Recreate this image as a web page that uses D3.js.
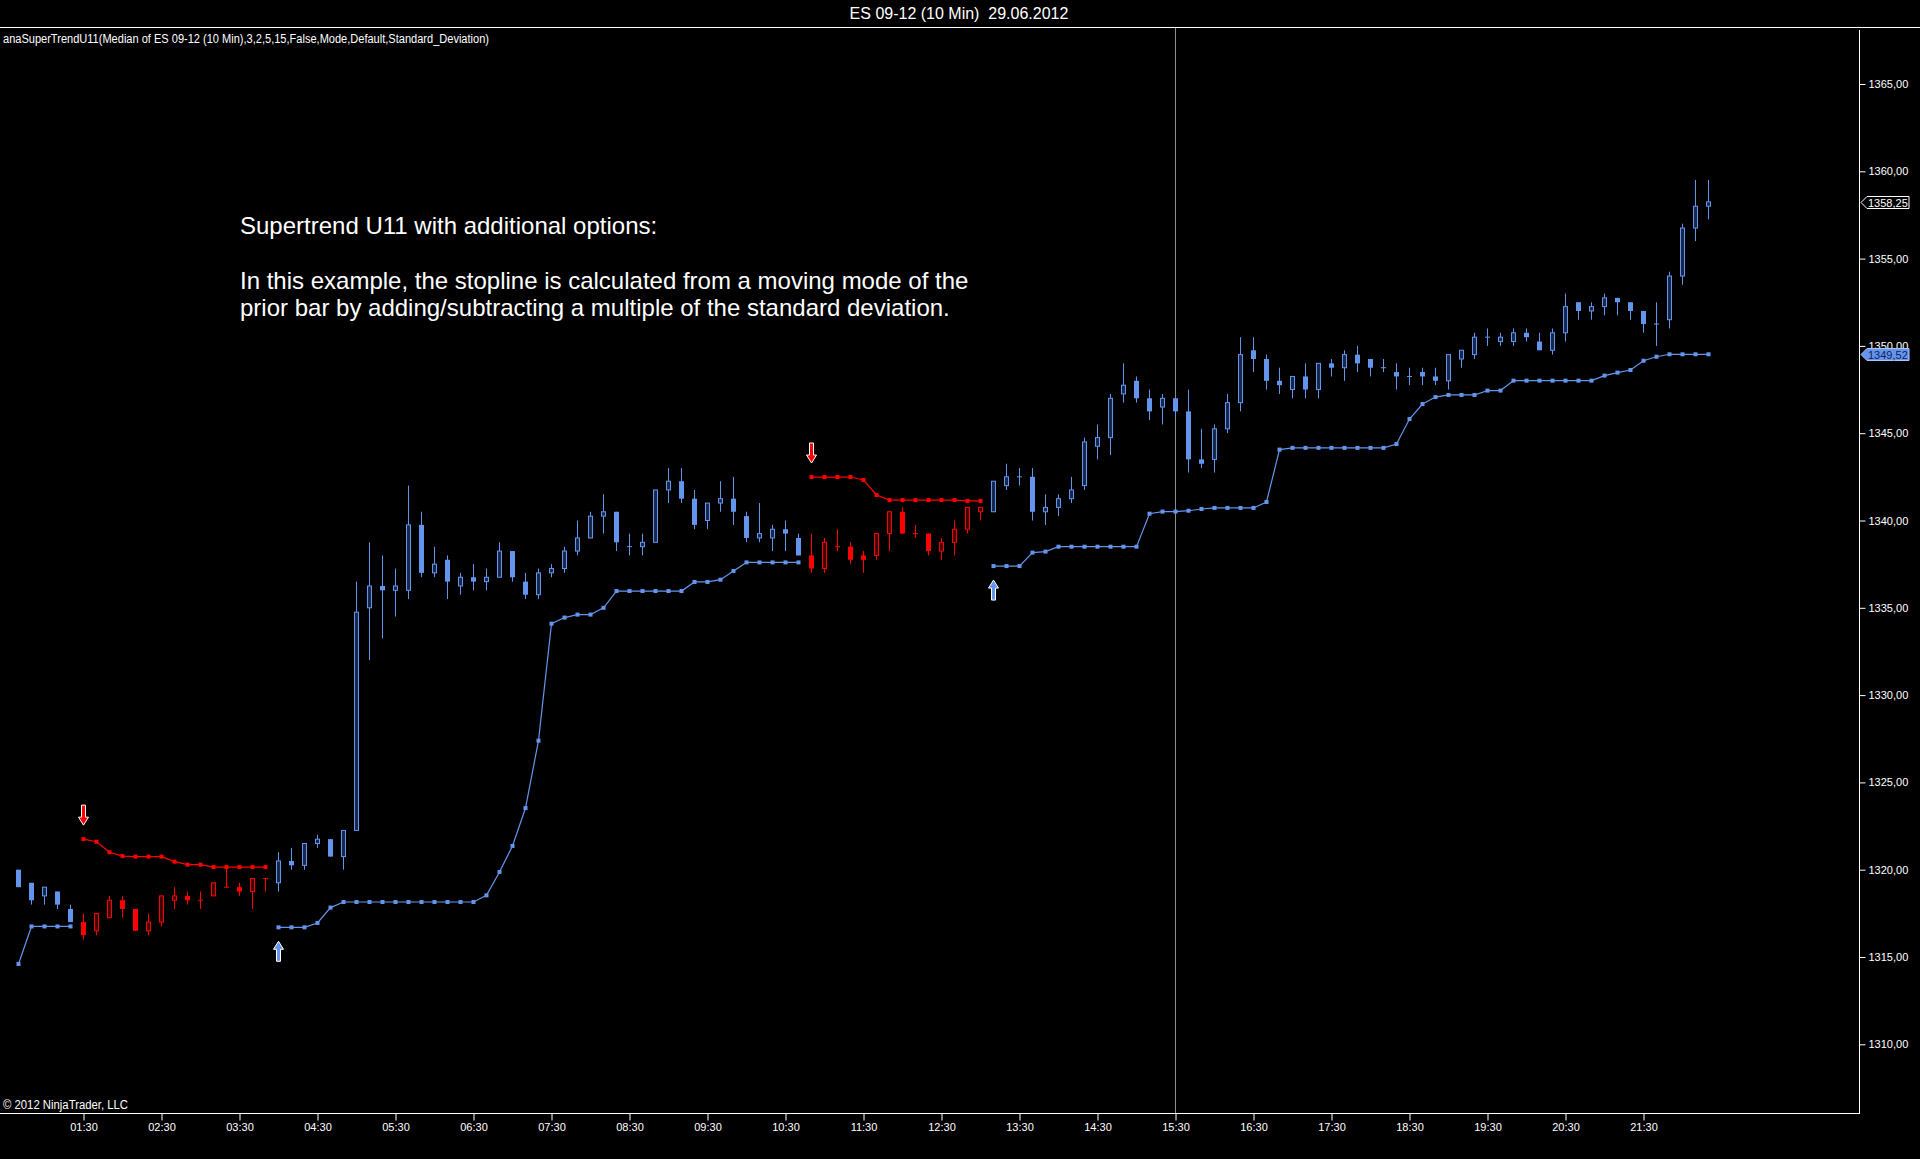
<!DOCTYPE html>
<html><head><meta charset="utf-8">
<script src="https://cdn.jsdelivr.net/npm/d3@7"></script>
<style>html,body{margin:0;padding:0;background:#000;overflow:hidden}</style>
</head><body>
<svg id="chart" width="1920" height="1159"></svg>
<script>
// ---------- DATA ----------
const title = "ES 09-12 (10 Min)  29.06.2012";
const indicatorLabel = "anaSuperTrendU11(Median of ES 09-12 (10 Min),3,2,5,15,False,Mode,Default,Standard_Deviation)";
const noteLines = ["Supertrend U11 with additional options:", "", "In this example, the stopline is calculated from a moving mode of the", "prior bar by adding/subtracting a multiple of the standard deviation."];
const copyright = "\u00A9 2012 NinjaTrader, LLC";
const firstBarTime = "00:40";
const barMinutes = 10;
const xTickLabels = ["01:30","02:30","03:30","04:30","05:30","06:30","07:30","08:30","09:30","10:30","11:30","12:30","13:30","14:30","15:30","16:30","17:30","18:30","19:30","20:30","21:30"];
const yTicks = [1310,1315,1320,1325,1330,1335,1340,1345,1350,1355,1360,1365];
const cursorTime = "15:30";

const open = [1320,1319.25,1318.5,1318.75,1317.75,1317,1316.5,1317.25,1318.25,1317.75,
1316.5,1317,1318.25,1318.5,1318.25,1318.5,1319,1319,1318.75,1319.5,
1319.25,1320.5,1320.25,1321.5,1321.75,1320.75,1322.25,1335,1336.25,1336,
1336,1339.75,1337,1337.75,1336.25,1336.75,1336.5,1336.75,1338.25,1336.5,
1335.75,1337,1337.25,1338.25,1339,1340.25,1340.5,1338.5,1338.5,1338.75,
1341.75,1342.25,1341.25,1340,1341,1341.25,1340.25,1339,1339,1339.5,
1339,1338,1337.25,1338.5,1338.5,1338,1338,1339.25,1340.5,1339.25,
1339.25,1338.25,1338.75,1339.5,1340.5,1340.5,1342,1342.5,1342.5,1340.5,
1340.75,1341.25,1342,1344.25,1344.75,1347.25,1348,1347,1346.5,1347,
1346.25,1343.5,1343.5,1345.25,1346.75,1349.75,1349.25,1348,1347.5,1348.25,
1347.5,1349,1348.75,1349.5,1349.25,1348.75,1348.5,1348.25,1348.5,1348.25,
1348,1349.25,1349.5,1350.5,1350.25,1350.25,1350.75,1350.25,1349.75,1350.75,
1352.5,1352,1352.25,1352.75,1352.5,1352,1351.25,1351.5,1354,1356.75,1358];
const high = [1320,1319.25,1319,1318.75,1318,1317.5,1317.5,1318.5,1318.5,1317.75,
1317.5,1318.5,1319,1318.75,1318.75,1319.25,1320.25,1319.25,1319.5,1319.5,
1321,1321.25,1321.5,1322,1321.75,1322.25,1336.5,1338.75,1338,1337.25,
1342,1340.5,1338.5,1338,1337,1337.5,1337.25,1338.75,1338.25,1337,
1337.25,1337.5,1338.5,1340,1340.5,1341.5,1340.5,1339.25,1339.25,1341.75,
1343,1343,1341.75,1341,1342.25,1342.5,1340.5,1341,1339.75,1340,
1339.25,1339.25,1339,1339.5,1338.75,1338.25,1339.25,1340.5,1340.75,1339.75,
1339.25,1339,1340,1340.75,1340.75,1342.25,1343.25,1343,1343,1341.5,
1341.5,1342.5,1344.75,1345.5,1347.25,1349,1348.25,1347.5,1347.25,1347,
1347.5,1345.25,1345.5,1347.25,1350.5,1350.5,1349.5,1348.75,1348.25,1349,
1349,1349.25,1349.75,1350,1349.25,1349.25,1349,1348.75,1348.75,1348.75,
1349.5,1349.75,1350.75,1351,1350.75,1351,1351,1350.75,1351,1353,
1352.5,1352.5,1353,1352.75,1352.5,1352,1352.5,1354.25,1357,1359.5,1359.5];
const low = [1319,1318,1318,1317.75,1317,1316,1316.25,1317.25,1317.25,1316.5,
1316.25,1316.75,1317.75,1318,1317.75,1318.5,1319,1318.5,1317.75,1318.75,
1318.75,1320,1320,1321.25,1320.75,1320,1322.25,1332,1333.25,1334.5,
1335.5,1336.75,1336.75,1335.5,1335.75,1336,1336,1336.75,1336.5,1335.5,
1335.5,1336.75,1337,1338,1339,1339.25,1338.25,1338,1338,1338.75,
1341,1341,1339.5,1339.5,1340.5,1339.75,1338.75,1338.75,1338.25,1338.25,
1338,1337,1337,1338.25,1337.5,1337,1337.75,1338.25,1339.25,1339,
1338,1337.75,1338,1339.25,1340,1340.5,1341.75,1342,1340,1339.75,
1340.25,1341,1341.75,1343.5,1343.75,1346.75,1346.75,1345.75,1345.5,1346,
1342.75,1343,1342.75,1345,1346.25,1348.5,1347.5,1347.25,1347,1347,
1347,1348.25,1348,1348.5,1348.25,1348.5,1347.5,1347.75,1347.75,1347.75,
1347.5,1348.75,1349.25,1350,1350,1350,1350.25,1349.75,1349.5,1350.25,
1351.5,1351.5,1351.75,1351.75,1351.5,1350.75,1350,1351,1353.5,1356,1357.25];
const close = [1319,1318.25,1319,1318,1317,1316.25,1317.5,1318.25,1317.75,1316.5,
1317,1318.5,1318.5,1318.25,1318.25,1319.25,1319,1318.75,1319.5,1319.5,
1320.5,1320.25,1321.5,1321.75,1320.75,1322.25,1334.75,1336.25,1336,1336.25,
1339.75,1337,1337.5,1336.5,1336.75,1336.5,1336.75,1338.25,1336.75,1335.75,
1337,1337.25,1338.25,1339,1340.25,1340.5,1338.75,1338.5,1338.75,1341.75,
1342.25,1341.25,1339.75,1341,1341.25,1340.5,1339,1339.25,1339.5,1339.25,
1338,1337.25,1338.75,1338.5,1337.75,1337.75,1339.25,1340.5,1339.25,1339.25,
1338.25,1338.75,1339.5,1340.75,1340.75,1342.25,1342.5,1342.5,1340.5,1340.75,
1341.25,1341.75,1344.5,1344.75,1347,1347.75,1347,1346.25,1347,1346.25,
1343.5,1343.25,1345.25,1346.75,1349.5,1349.25,1348,1347.75,1348.25,1347.5,
1349,1348.75,1349.5,1349,1348.75,1348.75,1348.25,1348.25,1348.25,1348,
1349.5,1349.75,1350.5,1350.5,1350.5,1350.75,1350.5,1349.75,1350.75,1352.25,
1352,1352.25,1352.75,1352.5,1352,1351.25,1351.25,1354,1356.75,1358,1358.25];

// stopline while trend is up (blue) / down (red)
const stopUp = [1314.6,1316.75,1316.75,1316.75,1316.75,
null,null,null,null,null,null,null,null,null,null,null,null,null,null,null,
1316.7,1316.7,1316.7,1316.95,1317.83,
1318.15,1318.15,1318.15,1318.15,1318.15,1318.15,1318.15,1318.15,1318.15,1318.15,1318.15,
1318.53,1319.87,1321.36,1323.53,1327.39,1334.09,1334.44,1334.61,1334.61,1335.0,
1335.96,1335.96,1335.96,1335.96,1335.96,1335.96,
1336.48,1336.48,1336.61,1337.11,
1337.6,1337.6,1337.6,1337.6,1337.6,
null,null,null,null,null,null,null,null,null,null,null,null,null,null,
1337.39,1337.39,1337.39,1338.16,1338.22,
1338.5,1338.5,1338.5,1338.5,1338.5,1338.5,1338.5,
1340.39,1340.51,1340.51,1340.56,1340.66,
1340.72,1340.72,1340.72,1340.72,
1341.06,1344.06,
1344.16,1344.16,1344.16,1344.16,1344.16,1344.16,1344.16,1344.16,
1344.38,1345.81,1346.67,1347.07,1347.19,1347.19,1347.19,1347.44,1347.44,
1348.01,1348.01,1348.01,1348.01,1348.01,1348.01,1348.01,
1348.3,1348.47,1348.62,1349.15,1349.38,
1349.52,1349.52,1349.52,1349.52];
const stopDown = [null,null,null,null,null,
1321.75,1321.6,1321.0,1320.78,1320.75,1320.75,1320.75,1320.46,1320.29,1320.29,1320.15,1320.15,1320.15,1320.15,1320.15,
null,null,null,null,null,null,null,null,null,null,null,null,null,null,null,null,null,null,null,null,
null,null,null,null,null,null,null,null,null,null,null,null,null,null,null,null,null,null,null,null,null,
1342.49,1342.49,1342.49,1342.49,1342.32,1341.46,1341.17,1341.17,1341.17,1341.17,1341.17,1341.17,1341.12,1341.12,
null,null,null,null,null,null,null,null,null,null,null,null,null,null,null,null,null,null,null,null,
null,null,null,null,null,null,null,null,null,null,null,null,null,null,null,null,null,null,null,null,
null,null,null,null,null,null,null,null,null,null,null,null,null,null,null,null];

// ---------- LAYOUT ----------
const W = 1920, H = 1159;
const plot = {top: 27, bottom: 1113, right: 1859};
const BLUE = "#6495ed", RED = "#ff0000";
const FONT = "'Liberation Sans', Arial, sans-serif";

const parse = d3.timeParse("%H:%M");
const fmt = d3.timeFormat("%H:%M");
const t0 = parse(firstBarTime);
const times = open.map((_, i) => d3.timeMinute.offset(t0, i * barMinutes));

const x = d3.scaleTime().domain([times[0], times[times.length - 1]]).range([18, 18 + 13 * (times.length - 1)]);
const y = d3.scaleLinear().domain([1310, 1365]).range([1044.3, 84]);

const svg = d3.select("#chart");
svg.append("rect").attr("width", W).attr("height", H).attr("fill", "#000");

// header
svg.append("text").attr("x", 959).attr("y", 19).attr("text-anchor", "middle").style("white-space", "pre")
  .attr("fill", "#fff").attr("font-family", FONT).attr("font-size", 16).text(title);
svg.append("line").attr("x1", 0).attr("x2", W).attr("y1", 27.5).attr("y2", 27.5).attr("stroke", "#fff");

svg.append("text").attr("x", 3).attr("y", 43).attr("fill", "#fff").attr("font-family", FONT)
  .attr("font-size", 12).attr("textLength", 486).attr("lengthAdjust", "spacingAndGlyphs").text(indicatorLabel);

// axes
const yAxis = d3.axisRight(y).tickValues(yTicks).tickSize(6).tickPadding(3)
  .tickFormat(d => d3.format(".2f")(d).replace(".", ","));
const ya = svg.append("g").attr("transform", `translate(${plot.right + 0.5},0)`).call(yAxis);
ya.select(".domain").remove();
ya.selectAll("line").attr("stroke", "#fff");
ya.selectAll("text").attr("fill", "#fff").attr("font-family", FONT).attr("font-size", 11);
svg.append("line").attr("x1", plot.right + 0.5).attr("x2", plot.right + 0.5).attr("y1", 30).attr("y2", plot.bottom).attr("stroke", "#fff");

const xAxis = d3.axisBottom(x).tickValues(xTickLabels.map(parse)).tickSize(7).tickPadding(3).tickFormat(fmt);
const xa = svg.append("g").attr("transform", `translate(0.5,${plot.bottom + 0.5})`).call(xAxis);
xa.select(".domain").remove();
xa.selectAll("line").attr("stroke", "#fff");
xa.selectAll("text").attr("fill", "#fff").attr("font-family", FONT).attr("font-size", 11);
svg.append("line").attr("x1", 0).attr("x2", plot.right + 1).attr("y1", plot.bottom + 0.5).attr("y2", plot.bottom + 0.5).attr("stroke", "#fff");

svg.append("text").attr("x", 3).attr("y", 1109).attr("fill", "#fff").attr("font-family", FONT)
  .attr("font-size", 12).attr("textLength", 125).attr("lengthAdjust", "spacingAndGlyphs").text(copyright);

// cursor line
svg.append("line").attr("x1", x(parse(cursorTime)) + 0.5).attr("x2", x(parse(cursorTime)) + 0.5)
  .attr("y1", 28).attr("y2", plot.bottom).attr("stroke", "#8c8c8c");

// note text
const note = svg.append("g");
noteLines.forEach((s, i) => {
  note.append("text").attr("x", 240).attr("y", 234 + i * 27.3).attr("fill", "#fff")
    .attr("font-family", FONT).attr("font-size", 24).text(s);
});

// stoplines
function drawStop(arr, color) {
  const line = d3.line().defined(d => d != null).x((d, i) => x(times[i]) + 0.5).y(d => y(d));
  svg.append("path").attr("d", line(arr)).attr("fill", "none").attr("stroke", color).attr("stroke-width", 1.2);
  svg.append("g").selectAll("rect").data(arr.map((v, i) => ({v, i})).filter(d => d.v != null)).join("rect")
    .attr("x", d => x(times[d.i]) - 1.5).attr("y", d => y(d.v) - 2).attr("width", 4).attr("height", 4).attr("fill", color);
}
drawStop(stopUp, BLUE);
drawStop(stopDown, RED);

// candles
const candles = svg.append("g");
open.forEach((o, i) => {
  const c = close[i], hi = high[i], lo = low[i];
  const isRed = stopDown[i] != null;
  const col = isRed ? RED : BLUE;
  const dark = isRed ? "#3d0505" : "#18284d";
  const cx = x(times[i]);
  candles.append("line").attr("x1", cx + 0.5).attr("x2", cx + 0.5).attr("y1", y(hi)).attr("y2", y(lo)).attr("stroke", col);
  if (c === o) {
    candles.append("line").attr("x1", cx - 2).attr("x2", cx + 3).attr("y1", y(o)).attr("y2", y(o)).attr("stroke", col);
  } else if (c > o) {
    candles.append("rect").attr("x", cx - 1.5).attr("width", 4).attr("y", y(c)).attr("height", Math.max(1, y(o) - y(c)))
      .attr("fill", dark).attr("stroke", col);
  } else {
    candles.append("rect").attr("x", cx - 2).attr("width", 5).attr("y", y(o)).attr("height", Math.max(1, y(c) - y(o)))
      .attr("fill", col);
  }
});

// signal arrows
function arrowDown(cx, tip) {
  return `M${cx-2},${tip-20}L${cx+2},${tip-20}L${cx+2},${tip-8}L${cx+5},${tip-8}L${cx},${tip}L${cx-5},${tip-8}L${cx-2},${tip-8}Z`;
}
function arrowUp(cx, tip) {
  return `M${cx-2},${tip+20}L${cx+2},${tip+20}L${cx+2},${tip+8}L${cx+5},${tip+8}L${cx},${tip}L${cx-5},${tip+8}L${cx-2},${tip+8}Z`;
}
open.forEach((_, i) => {
  const cx = x(times[i]) + 0.5;
  if (stopDown[i] != null && (i === 0 || stopDown[i - 1] == null)) {
    svg.append("path").attr("d", arrowDown(cx, y(stopDown[i]) - 14)).attr("fill", RED).attr("stroke", "#fff");
  }
  if (i > 0 && stopUp[i] != null && stopUp[i - 1] == null) {
    svg.append("path").attr("d", arrowUp(cx, y(stopUp[i]) + 14)).attr("fill", BLUE).attr("stroke", "#fff");
  }
});

// price markers
function marker(v, fill, stroke, textCol) {
  const yy = Math.round(y(v)) + 0.5, x0 = plot.right + 2;
  svg.append("path").attr("d", `M${x0},${yy}L${x0+6},${yy-6}L1909,${yy-6}L1909,${yy+6}L${x0+6},${yy+6}Z`)
    .attr("fill", fill).attr("stroke", stroke);
  svg.append("text").attr("x", x0 + 7).attr("y", yy + 4).attr("fill", textCol).attr("font-family", FONT)
    .attr("font-size", 11).text(d3.format(".2f")(v).replace(".", ","));
}
marker(close[close.length - 1], "#000", "#fff", "#fff");
marker(stopUp[stopUp.length - 1], BLUE, "#a9c3f5", "#15205a");
</script>
</body></html>
